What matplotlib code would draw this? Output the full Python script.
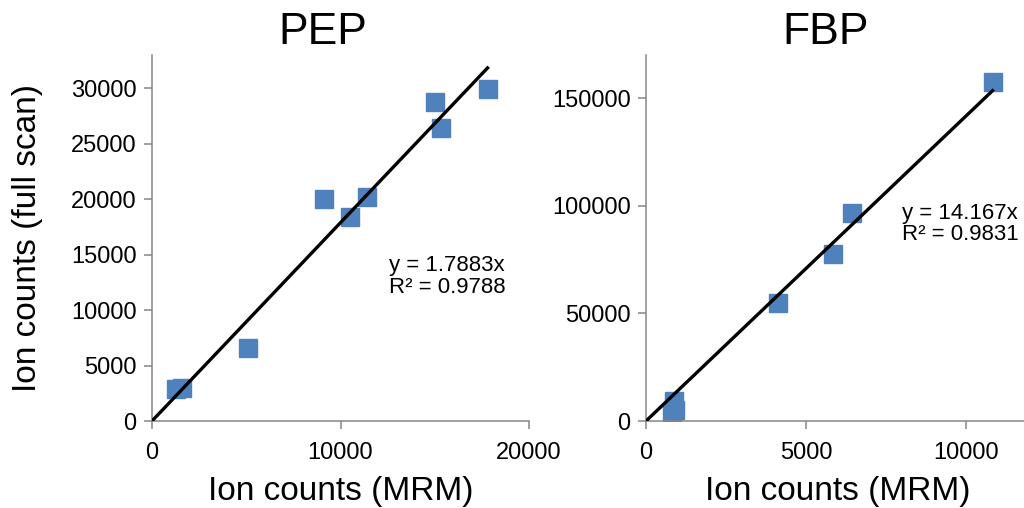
import matplotlib
matplotlib.use('Agg')
import matplotlib.pyplot as plt
import numpy as np

# PEP: MRM vs full scan ion counts
pep_mrm = [1250, 1600, 5080, 9150, 10500, 11400, 15000, 15350, 17800]
pep_full = [2900, 3000, 6600, 20000, 18400, 20200, 28800, 26400, 29900]
pep_slope = 1.7883
pep_r2 = 0.9788

# FBP: MRM vs full scan ion counts
fbp_mrm = [800, 880, 920, 4140, 5830, 6440, 10830]
fbp_full = [3000, 9400, 5000, 54700, 77800, 96400, 157600]
fbp_slope = 14.167
fbp_r2 = 0.9831

plt.rcParams['font.family'] = ['Liberation Sans', 'DejaVu Sans']

blue = '#4F81BD'
gray = '#868686'

fig = plt.figure(figsize=(10.24, 5.08), dpi=100)
ax1 = fig.add_axes([152 / 1024, 87 / 508, 377 / 1024, 366 / 508])
ax2 = fig.add_axes([646 / 1024, 87 / 508, 384 / 1024, 366 / 508])


def style(ax):
    for s in ['top', 'right']:
        ax.spines[s].set_visible(False)
    for s in ['left', 'bottom']:
        ax.spines[s].set_color(gray)
        ax.spines[s].set_linewidth(1.1)
    ax.tick_params(colors=gray, labelcolor='black', labelsize=17,
                   length=6, width=1.1, direction='out')
    ax.tick_params(axis='y', pad=5)
    ax.tick_params(axis='x', pad=9)


def panel(ax, x, y, slope, r2, xmax, ymax, xticks, yticks, tx, ty):
    x = np.array(x)
    ax.plot(x, y, 's', color=blue, markersize=13.5, zorder=2)
    xs = np.array([0, x.max()])
    ax.plot(xs, slope * xs, color='black', linewidth=2.4, zorder=3)
    ax.set_xlim(0, xmax)
    ax.set_ylim(0, ymax)
    ax.set_xticks(xticks)
    ax.set_yticks(yticks)
    ax.set_xlabel('Ion counts (MRM)', fontsize=24, labelpad=9)
    ax.text(tx, ty, 'y = %sx\nR² = %s' % (slope, r2), fontsize=16,
            ha='left', va='center', linespacing=1.05, zorder=4)
    style(ax)


panel(ax1, pep_mrm, pep_full, pep_slope, pep_r2, 20000, 33000,
      [0, 10000, 20000], np.arange(0, 30001, 5000), 12550, 13000)
panel(ax2, fbp_mrm, fbp_full, fbp_slope, fbp_r2, 12000, 170000,
      [0, 5000, 10000], np.arange(0, 150001, 50000), 8000, 91500)

ax1.set_ylabel('Ion counts (full scan)', fontsize=24, labelpad=20)

fig.text(323 / 1024, 1 - 32 / 508, 'PEP', fontsize=32, ha='center', va='center')
fig.text(826 / 1024, 1 - 32 / 508, 'FBP', fontsize=32, ha='center', va='center')

fig.savefig('out.png', dpi=100)
